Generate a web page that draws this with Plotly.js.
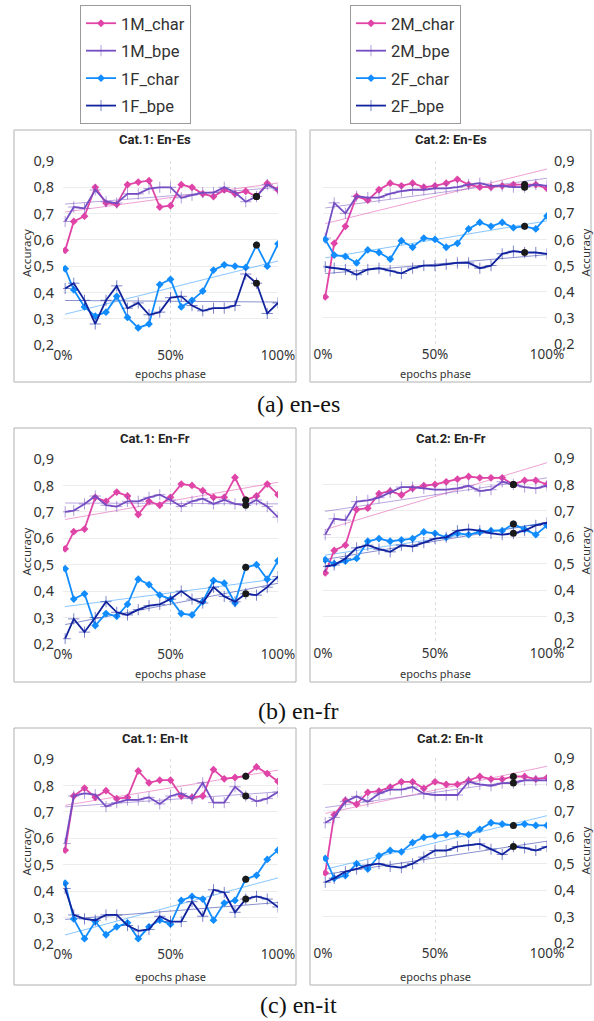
<!DOCTYPE html>
<html>
<head>
<meta charset="utf-8">
<script src="https://cdn.plot.ly/plotly-3.0.1.min.js"></script>
<style>
html,body{margin:0;padding:0;background:#fff;}
#chart{width:594px;height:1021px;}
</style>
</head>
<body>
<div id="chart"></div>
<script>
// ---------- DATA ----------
const epochs = [1,5,10,15,20,25,30,35,40,45,50,55,60,65,70,75,80,85,90,95,100];
const xTickVals = [0,50,100];
const xTickText = ['0%','50%','100%'];
const yTickVals = [0.2,0.3,0.4,0.5,0.6,0.7,0.8,0.9];

const cat1Names = ['1M_char','1M_bpe','1F_char','1F_bpe'];
const cat2Names = ['2M_char','2M_bpe','2F_char','2F_bpe'];

// (a) en-es
const esCat1_Mchar = [0.56,0.67,0.69,0.80,0.74,0.735,0.81,0.82,0.825,0.725,0.73,0.81,0.80,0.775,0.765,0.79,0.775,0.785,0.765,0.815,0.79];
const esCat1_Mbpe  = [0.67,0.725,0.72,0.79,0.745,0.74,0.775,0.775,0.795,0.80,0.80,0.76,0.77,0.78,0.78,0.80,0.78,0.745,0.765,0.81,0.79];
const esCat1_Fchar = [0.49,0.41,0.345,0.31,0.325,0.385,0.305,0.265,0.28,0.43,0.45,0.345,0.37,0.405,0.485,0.505,0.50,0.495,0.58,0.50,0.585];
const esCat1_Fbpe  = [0.415,0.435,0.37,0.28,0.37,0.425,0.34,0.36,0.315,0.325,0.38,0.385,0.35,0.33,0.34,0.34,0.35,0.47,0.435,0.32,0.36];
const esCat2_Mchar = [0.38,0.585,0.65,0.765,0.75,0.79,0.815,0.805,0.815,0.80,0.805,0.815,0.83,0.81,0.80,0.80,0.805,0.81,0.81,0.81,0.795];
const esCat2_Mbpe  = [0.605,0.74,0.70,0.765,0.76,0.76,0.775,0.785,0.79,0.79,0.795,0.795,0.80,0.81,0.815,0.805,0.805,0.80,0.80,0.81,0.805];
const esCat2_Fchar = [0.60,0.54,0.535,0.51,0.56,0.55,0.525,0.595,0.57,0.605,0.60,0.57,0.585,0.64,0.665,0.65,0.665,0.645,0.65,0.64,0.69];
const esCat2_Fbpe  = [0.495,0.49,0.485,0.465,0.485,0.49,0.48,0.47,0.49,0.50,0.50,0.505,0.51,0.51,0.49,0.50,0.545,0.555,0.55,0.55,0.545];

// (b) en-fr
const frCat1_Mchar = [0.56,0.625,0.635,0.755,0.74,0.775,0.76,0.69,0.74,0.725,0.755,0.805,0.80,0.78,0.755,0.755,0.83,0.745,0.76,0.805,0.765];
const frCat1_Mbpe  = [0.70,0.705,0.73,0.76,0.725,0.72,0.74,0.74,0.755,0.765,0.745,0.72,0.74,0.75,0.73,0.745,0.73,0.725,0.745,0.72,0.68];
const frCat1_Fchar = [0.485,0.37,0.39,0.27,0.315,0.305,0.35,0.445,0.425,0.385,0.37,0.315,0.31,0.36,0.44,0.43,0.355,0.49,0.50,0.445,0.515];
const frCat1_Fbpe  = [0.22,0.295,0.245,0.30,0.36,0.32,0.31,0.33,0.345,0.35,0.37,0.40,0.37,0.355,0.415,0.38,0.36,0.39,0.385,0.415,0.455];
const frCat2_Mchar = [0.465,0.55,0.57,0.705,0.71,0.765,0.775,0.76,0.785,0.795,0.80,0.81,0.82,0.83,0.825,0.825,0.825,0.80,0.815,0.815,0.80];
const frCat2_Mbpe  = [0.61,0.67,0.665,0.735,0.74,0.75,0.77,0.79,0.79,0.785,0.78,0.78,0.785,0.795,0.775,0.78,0.81,0.80,0.79,0.785,0.795];
const frCat2_Fchar = [0.515,0.50,0.51,0.52,0.585,0.595,0.585,0.59,0.595,0.62,0.615,0.60,0.615,0.61,0.62,0.625,0.625,0.65,0.63,0.61,0.645];
const frCat2_Fbpe  = [0.49,0.495,0.52,0.56,0.57,0.555,0.545,0.57,0.565,0.58,0.595,0.60,0.625,0.63,0.625,0.615,0.61,0.615,0.625,0.645,0.655];

// (c) en-it
const itCat1_Mchar = [0.555,0.76,0.79,0.755,0.78,0.75,0.755,0.855,0.81,0.82,0.82,0.76,0.755,0.76,0.86,0.825,0.83,0.835,0.87,0.845,0.815];
const itCat1_Mbpe  = [0.58,0.76,0.77,0.765,0.72,0.735,0.745,0.745,0.755,0.73,0.76,0.77,0.75,0.81,0.735,0.735,0.795,0.76,0.74,0.75,0.775];
const itCat1_Fchar = [0.43,0.295,0.22,0.285,0.235,0.265,0.28,0.22,0.265,0.29,0.275,0.365,0.38,0.37,0.29,0.355,0.365,0.445,0.46,0.52,0.555];
const itCat1_Fbpe  = [0.41,0.31,0.295,0.29,0.31,0.31,0.27,0.25,0.255,0.305,0.285,0.285,0.36,0.305,0.405,0.395,0.32,0.37,0.38,0.37,0.34];
const itCat2_Mchar = [0.465,0.685,0.74,0.725,0.77,0.775,0.79,0.81,0.81,0.785,0.81,0.80,0.80,0.815,0.83,0.82,0.82,0.83,0.83,0.82,0.825];
const itCat2_Mbpe  = [0.655,0.675,0.735,0.755,0.735,0.765,0.78,0.78,0.79,0.765,0.76,0.76,0.76,0.81,0.80,0.795,0.805,0.805,0.815,0.815,0.815];
const itCat2_Fchar = [0.52,0.445,0.455,0.50,0.48,0.53,0.55,0.545,0.58,0.60,0.605,0.61,0.615,0.61,0.63,0.655,0.65,0.645,0.65,0.645,0.645];
const itCat2_Fbpe  = [0.43,0.445,0.47,0.48,0.495,0.50,0.49,0.485,0.50,0.525,0.55,0.55,0.565,0.57,0.575,0.555,0.535,0.565,0.56,0.55,0.565];

// index of the highlighted (black dot) epoch in each pair of panels
const bestEs = 18, bestFr = 17, bestIt = 17;

const panelTitles = ['Cat.1: En-Es','Cat.2: En-Es','Cat.1: En-Fr','Cat.2: En-Fr','Cat.1: En-It','Cat.2: En-It'];
const captions = ['(a) en-es','(b) en-fr','(c) en-it'];

// ---------- STYLE ----------
const W = 594, H = 1021;
const colors = ['#E044A7','#744EC2','#118DFF','#12239E'];
const symbols = ['diamond','cross-thin','diamond','cross-thin'];
const fam = '"Noto Sans", "DejaVu Sans", sans-serif';

const panels = [
  {series:[esCat1_Mchar,esCat1_Mbpe,esCat1_Fchar,esCat1_Fbpe], names:cat1Names, best:bestEs, right:false, legend:'legend', showleg:true,
   px:[63,278], py:[161,345], box:[14,130,296,382]},
  {series:[esCat2_Mchar,esCat2_Mbpe,esCat2_Fchar,esCat2_Fbpe], names:cat2Names, best:bestEs, right:true, legend:'legend2', showleg:true,
   px:[323,547], py:[161,344], box:[310,130,591,382]},
  {series:[frCat1_Mchar,frCat1_Mbpe,frCat1_Fchar,frCat1_Fbpe], names:cat1Names, best:bestFr, right:false, legend:'legend', showleg:false,
   px:[63,278], py:[459,644], box:[14,428,296,682]},
  {series:[frCat2_Mchar,frCat2_Mbpe,frCat2_Fchar,frCat2_Fbpe], names:cat2Names, best:bestFr, right:true, legend:'legend2', showleg:false,
   px:[323,547], py:[458,643], box:[310,428,591,682]},
  {series:[itCat1_Mchar,itCat1_Mbpe,itCat1_Fchar,itCat1_Fbpe], names:cat1Names, best:bestIt, right:false, legend:'legend', showleg:false,
   px:[63,278], py:[759,944], box:[14,728,296,985]},
  {series:[itCat2_Mchar,itCat2_Mbpe,itCat2_Fchar,itCat2_Fbpe], names:cat2Names, best:bestIt, right:true, legend:'legend2', showleg:false,
   px:[323,547], py:[758,943], box:[310,728,591,985]}
];
const captionY = [404, 711, 1005];

const fx = v => v / W;
const fy = v => 1 - v / H;

function linfit(xs, ys) {
  const n = xs.length;
  let sx=0, sy=0, sxx=0, sxy=0;
  for (let i=0;i<n;i++){ sx+=xs[i]; sy+=ys[i]; sxx+=xs[i]*xs[i]; sxy+=xs[i]*ys[i]; }
  const b = (n*sxy - sx*sy) / (n*sxx - sx*sx);
  const a = (sy - b*sx) / n;
  return [a, b];
}

const traces = [];
const layout = {
  width: W, height: H,
  margin: {l:0, r:0, t:0, b:0},
  paper_bgcolor: '#fff', plot_bgcolor: 'rgba(0,0,0,0)',
  separators: ',.',
  font: {family: fam, color: '#333'},
  showlegend: true,
  annotations: [], shapes: []
};

const legendCommon = {
  yanchor:'top', xanchor:'left',
  bordercolor:'#9a9a9a', borderwidth:1, bgcolor:'#fff',
  font:{family:'Roboto, "Noto Sans", sans-serif', size:16.5, color:'#333'},
  tracegroupgap: 3, itemwidth: 30, itemclick:false, itemdoubleclick:false
};
layout.legend  = Object.assign({x: fx(80),  y: fy(5)}, legendCommon);
layout.legend2 = Object.assign({x: fx(350), y: fy(5)}, legendCommon);

panels.forEach((p, k) => {
  const n = k + 1;
  const xa = 'x' + (n === 1 ? '' : n);
  const ya = 'y' + (n === 1 ? '' : n);
  const xKey = 'xaxis' + (n === 1 ? '' : n);
  const yKey = 'yaxis' + (n === 1 ? '' : n);

  layout[xKey] = {
    domain: [fx(p.px[0]), fx(p.px[1])],
    anchor: ya, range: [0, 100], fixedrange: true,
    tickvals: xTickVals, ticktext: xTickText,
    showgrid: true, gridcolor: '#dedede', griddash: 'dot', gridwidth: 1,
    zeroline: false, showline: false, ticks: '',
    tickfont: {family: fam, size: 13.5, color: '#333'}
  };
  layout[yKey] = {
    domain: [fy(p.py[1]), fy(p.py[0])],
    anchor: xa, range: [0.2, 0.9], fixedrange: true,
    tickvals: yTickVals, tickformat: '.1f',
    side: p.right ? 'right' : 'left',
    showgrid: true, gridcolor: '#ececec', gridwidth: 1,
    zeroline: false, showline: false, ticks: '',
    ticklabelstandoff: p.right ? 6 : 8,
    tickfont: {family: fam, size: 14.5, color: '#333'}
  };

  // trend lines (least squares fits of each series)
  p.series.forEach((ys, i) => {
    const [a, b] = linfit(epochs, ys);
    const x0 = epochs[0], x1 = epochs[epochs.length - 1];
    traces.push({
      type: 'scatter', mode: 'lines', xaxis: xa, yaxis: ya,
      x: [x0, x1], y: [a + b*x0, a + b*x1],
      line: {color: colors[i], width: 1}, opacity: 0.5,
      showlegend: false, hoverinfo: 'skip'
    });
  });

  // series
  p.series.forEach((ys, i) => {
    const isBpe = symbols[i] === 'cross-thin';
    traces.push({
      type: 'scatter', mode: 'lines+markers', xaxis: xa, yaxis: ya,
      x: epochs, y: ys, name: p.names[i],
      legend: p.legend, legendgroup: p.names[i],
      showlegend: p.showleg,
      line: {color: colors[i], width: 1.8},
      marker: isBpe
        ? {symbol: 'cross-thin', size: 8, color: colors[i], line: {color: colors[i], width: 1}, opacity: 0.55}
        : {symbol: 'diamond', size: 6, color: colors[i]}
    });
  });

  // highlighted epoch (black dots)
  traces.push({
    type: 'scatter', mode: 'markers', xaxis: xa, yaxis: ya,
    x: p.series.map(() => epochs[p.best]),
    y: p.series.map(ys => ys[p.best]),
    marker: {symbol: 'circle', size: 7, color: '#1a1a1a'},
    showlegend: false, hoverinfo: 'skip'
  });

  // panel frame
  layout.shapes.push({
    type: 'rect', xref: 'paper', yref: 'paper', layer: 'below',
    x0: fx(p.box[0]), x1: fx(p.box[2]), y0: fy(p.box[3]), y1: fy(p.box[1]),
    line: {color: '#b0b0b0', width: 1}, fillcolor: 'rgba(0,0,0,0)'
  });

  const cx = (p.box[0] + p.box[2]) / 2;
  const plotMidX = (p.px[0] + p.px[1]) / 2;
  const plotMidY = (p.py[0] + p.py[1]) / 2;
  // panel title
  layout.annotations.push({
    xref: 'paper', yref: 'paper', x: fx(cx), y: fy(p.box[1] + 10),
    xanchor: 'center', yanchor: 'middle', showarrow: false,
    text: '<b>' + panelTitles[k] + '</b>',
    font: {family: 'Roboto, "Noto Sans", sans-serif', size: 13, color: '#252423'}
  });
  // x axis title
  layout.annotations.push({
    xref: 'paper', yref: 'paper', x: fx(plotMidX), y: fy(p.box[3] - 9),
    xanchor: 'center', yanchor: 'middle', showarrow: false,
    text: 'epochs phase',
    font: {family: fam, size: 11, color: '#333'}
  });
  // y axis title
  layout.annotations.push({
    xref: 'paper', yref: 'paper', x: fx(p.right ? 585 : 26), y: fy(plotMidY),
    xanchor: 'center', yanchor: 'middle', showarrow: false, textangle: -90,
    text: 'Accuracy',
    font: {family: fam, size: 11.5, color: '#333'}
  });
});

captions.forEach((c, i) => {
  layout.annotations.push({
    xref: 'paper', yref: 'paper', x: fx(298), y: fy(captionY[i]),
    xanchor: 'center', yanchor: 'middle', showarrow: false,
    text: c,
    font: {family: '"Liberation Serif", "DejaVu Serif", serif', size: 24, color: '#111'}
  });
});

Plotly.newPlot('chart', traces, layout, {staticPlot: true, displayModeBar: false});
</script>
</body>
</html>
